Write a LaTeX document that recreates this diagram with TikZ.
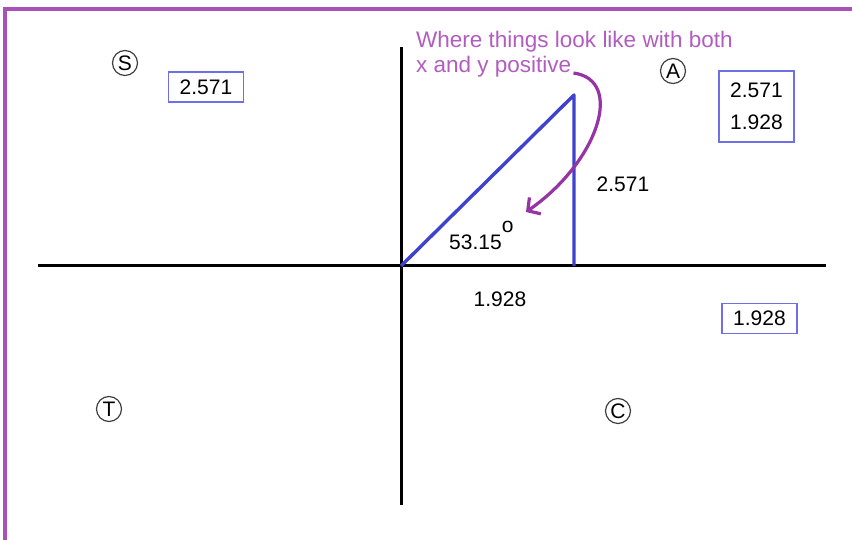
\documentclass[tikz,border=0pt]{standalone}
\usepackage{fontspec}
\setmainfont{Liberation Sans}
\usetikzlibrary{arrows.meta,positioning}
\definecolor{framepurple}{RGB}{168,82,182}
\definecolor{notepurple}{RGB}{178,92,192}
\definecolor{arrowpurple}{RGB}{150,52,165}
\definecolor{legblue}{RGB}{62,66,205}
\definecolor{boxedge}{RGB}{112,112,228}
\begin{document}
\begin{tikzpicture}[x=1pt,y=-1pt,
  axis/.style={line width=3pt,black},
  leg/.style={line width=3.4pt,draw=legblue},
  lbl/.style={font=\fontsize{21}{24}\selectfont,inner sep=0pt},
  valbox/.style={draw=boxedge,line width=1.4pt,font=\fontsize{21}{32}\selectfont,minimum width=75pt,minimum height=30pt,inner sep=2pt,align=center},
  quad/.style={draw=black!75,circle,line width=1.2pt,inner sep=0pt,minimum size=25pt,font=\fontsize{21}{21}\selectfont},
  note/.style={text=notepurple,font=\fontsize{22.5}{24}\selectfont,inner sep=0pt,anchor=base west},
  arrow/.style={-{Straight Barb[length=9pt,width=20pt]},line width=3.2pt,arrowpurple}
]
\useasboundingbox (0,0) rectangle (852,540);
\draw[framepurple,line width=4pt] (852,9.5) -| (4.5,540);
% axes
\draw[axis] (38,266) -- (826,266);
\draw[axis] (401,47) -- (401,505);
% triangle
\coordinate (O) at (401,266);
\coordinate (P) at (574,95);
\coordinate (Q) at (574,266);
\draw[leg,line join=round] (O) -- (P) -- (Q);
% side labels
\node[lbl] (rise) at (623,184) {2.571};
\node[lbl,anchor=base west] (ang) at (449,250) {53.15\raisebox{0.85em}{o}};
\node[lbl] (run) at (500,299) {1.928};
% note and curved arrow
\node[note] (note1) at (416,48) {Where things look like with both};
\node[note] (note2) at (416,73) {x and y positive};
\coordinate (tip) at (526,212);
\draw[arrow] ([xshift=2pt]note2.base east) .. controls (625,80) and (598,162) .. (tip);
% quadrant letters
\node[quad] (qS) at (125,63) {S};
\node[quad] (qA) at (673,71) {A};
\node[quad] (qT) at (109,409) {T};
\node[quad] (qC) at (618,411) {C};
% values
\node[valbox] (sbox) at (206,87) {2.571};
\node[valbox,minimum height=71pt] (abox) at (756.5,106.5) {2.571\\1.928};
\node[valbox] (cbox) at (759.5,318.5) {1.928};
\end{tikzpicture}
\end{document}
